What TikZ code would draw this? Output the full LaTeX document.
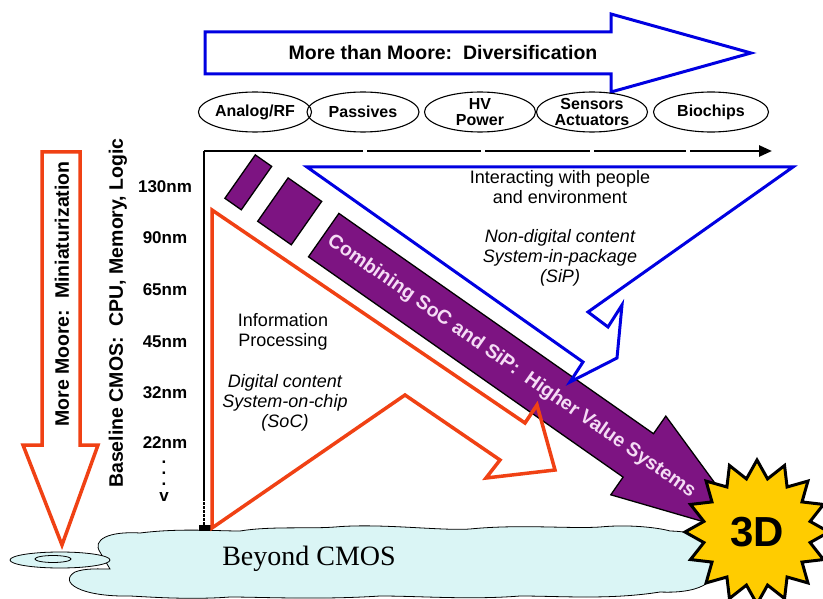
\documentclass[tikz,border=0pt]{standalone}
\usepackage{fontspec}
\setmainfont{Liberation Sans}
\newfontfamily\cloudfont{Liberation Serif}
\usetikzlibrary{arrows.meta,shapes.geometric}
\definecolor{bluel}{RGB}{0,0,225}
\definecolor{redl}{RGB}{240,65,20}
\definecolor{purp}{RGB}{125,20,130}
\definecolor{purptxt}{RGB}{245,220,245}
\definecolor{cloudc}{RGB}{218,245,245}
\definecolor{stary}{RGB}{255,204,0}
\begin{document}
\begin{tikzpicture}[x=1pt,y=-1pt,
  headtxt/.style={font=\bfseries\fontsize{19.5}{22}\selectfont},
  oval/.style={draw,ellipse,line width=1.1pt,minimum height=40pt,inner sep=0pt,align=center,font=\bfseries\fontsize{16}{18}\selectfont},
  nmtxt/.style={font=\bfseries\fontsize{17}{19}\selectfont},
  bodytxt/.style={align=center,font=\fontsize{18}{20}\selectfont},
  italtxt/.style={align=center,font=\itshape\fontsize{18}{20}\selectfont},
  bluebox/.style={draw=bluel,line width=3pt,line join=miter},
  redbox/.style={draw=redl,line width=3.5pt,line join=miter},
  axisline/.style={draw=black,line width=2.5pt},
  cloudstyle/.style={draw=black,line width=0.8pt,fill=cloudc},
  ]
\useasboundingbox (0,0) rectangle (823,599);
\fill[white] (0,0) rectangle (823,599);

% cloud
\path[cloudstyle] (100,552) .. controls (92,540) and (108,531) .. (140,533)
  .. controls (180,528) and (215,531) .. (240,531)
  .. controls (270,526) and (310,529) .. (335,527)
  .. controls (380,523) and (440,531) .. (470,529)
  .. controls (520,524) and (570,529) .. (600,527)
  .. controls (630,524) and (660,528) .. (670,531)
  .. controls (710,532) and (722,548) .. (712,560)
  .. controls (722,578) and (705,594) .. (660,592)
  .. controls (610,600) and (560,596) .. (520,596)
  .. controls (470,600) and (420,596) .. (380,596)
  .. controls (320,600) and (260,597) .. (230,597)
  .. controls (190,600) and (150,597) .. (130,596)
  .. controls (80,597) and (58,582) .. (75,572)
  .. controls (85,568) and (100,569) .. (110,569) -- cycle;
\path[cloudstyle] (60,560) ellipse [x radius=50, y radius=8];
\path[cloudstyle] (53,559) ellipse [x radius=18, y radius=3.5];
\node[anchor=base,font=\cloudfont\fontsize{28}{30}\selectfont] (beyond) at (309,565) {Beyond CMOS};

% top blue arrow
\draw[bluebox,fill=white] (205,32) -- (611,32) -- (611,14) -- (751,53) -- (611,92) -- (611,74) -- (205,74) -- cycle;
\node[headtxt] (mtm) at (443,53) {More than Moore:\ \ Diversification};

% ellipses
\node[oval,minimum width=102pt] (e1) at (255,112) {Analog/RF};
\node[oval,minimum width=112pt] (e2) at (363,112) {Passives};
\node[oval,minimum width=111pt] (e3) at (480,112) {HV\\[-2pt]Power};
\node[oval,minimum width=111pt] (e4) at (592,112) {Sensors\\[-2pt]Actuators};
\node[oval,minimum width=115pt] (e5) at (711,112) {Biochips};

% left red down arrow
\draw[redbox,fill=white] (42,152) -- (80,152) -- (80,445) -- (98,445) -- (62,545) -- (23,445) -- (42,445) -- cycle;
\node[headtxt,rotate=90] (mm) at (62,294) {More Moore:\ \ Miniaturization};

% baseline label and nodes
\node[headtxt,rotate=90] (base) at (118,313) {Baseline CMOS:\ \ CPU, Memory, Logic};
\node[nmtxt] (n130) at (165,187) {130nm};
\node[nmtxt] (n90) at (165,238) {90nm};
\node[nmtxt] (n65) at (165,290) {65nm};
\node[nmtxt] (n45) at (165,342) {45nm};
\node[nmtxt] (n32) at (165,393) {32nm};
\node[nmtxt] (n22) at (165,443) {22nm};
\node[nmtxt] (d1) at (164,462) {.};
\node[nmtxt] (d2) at (164,473) {.};
\node[nmtxt] (d3) at (164,484) {.};
\node[nmtxt] (vv) at (164,497) {v};

% axes
\coordinate (o) at (204,151);
\coordinate (xa) at (772,151);
\coordinate (yb) at (204,498);
\coordinate (yc) at (204,527);
\draw[axisline] (o) -- (363,151);
\draw[axisline] (367,151) -- (481,151);
\draw[axisline] (485,151) -- (590,151);
\draw[axisline] (594,151) -- (686,151);
\draw[axisline,-{Triangle[length=13pt,width=11pt]}] (690,151) -- (xa);
\draw[axisline,line cap=rect] ([yshift=-1.2pt]o) -- (yb);
\draw[black,line width=2pt,dash pattern=on 2.5pt off 1.5pt] (yb) -- (yc);
\fill[black] (199,525) rectangle (211,531);

% purple arrow
\begin{scope}[draw=black,line width=1.3pt,fill=purp]
\filldraw (255.3,154.9) -- (271.7,166.4) -- (241.3,209.8) -- (224.9,198.3) -- cycle;
\filldraw (288.1,177.9) -- (321.7,201.4) -- (291.3,244.8) -- (257.7,221.3) -- cycle;
\filldraw (338.9,213.4) -- (653.5,433.7) -- (665.8,416.1) -- (753.8,536.3) -- (610.8,494.8) -- (623.1,477.1) -- (308.5,256.8) -- cycle;
\end{scope}
\node[headtxt,text=purptxt,rotate=-35] (comb) at (511.3,366.5) {Combining SoC and SiP:\ \ Higher Value Systems};

% blue SiP triangle
\draw[bluebox] (307,167) -- (793,167) -- (588,312) -- (608,327) -- (622,305) -- (617,358) -- (570,382) -- (583,362) -- cycle;
\node[bodytxt] (inter) at (560,187) {Interacting with people\\and environment};
\node[italtxt] (nond) at (560,258) {Non-digital content\\System-in-package\\(SiP)};

% red SoC triangle
\draw[redbox] (212,210) -- (525,423) -- (537,405) -- (555,470) -- (486,478) -- (500,460) -- (405,395) -- (212,528) -- cycle;
\node[bodytxt] (info) at (283,332) {Information\\Processing};
\node[italtxt] (dig) at (285,403) {Digital content\\System-on-chip\\(SoC)};

% 3D star
\node[star,star points=16,star point ratio=1.33,minimum size=144pt,draw=black,line width=3pt,fill=stary,inner sep=0pt,font=\bfseries\fontsize{42}{44}\selectfont] (star) at (757,532) {3D};
\end{tikzpicture}
\end{document}
